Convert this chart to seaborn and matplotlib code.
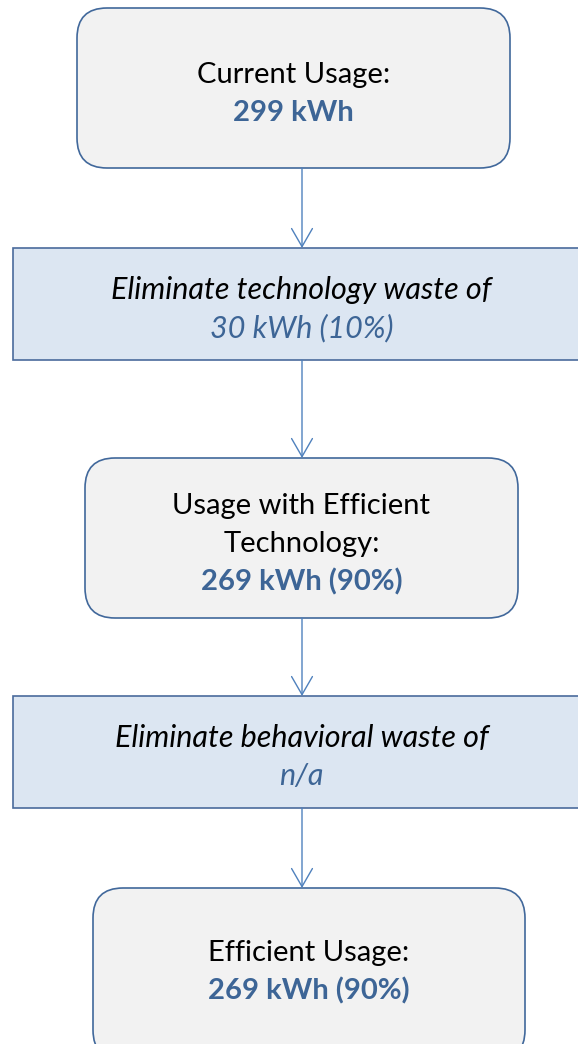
import matplotlib
matplotlib.use("Agg")
import matplotlib.pyplot as plt
from matplotlib.patches import FancyBboxPatch, Rectangle
import seaborn as sns

# flow steps, top to bottom
step_titles = ["Current Usage:",
               "Eliminate technology waste of",
               "Usage with Efficient\nTechnology:",
               "Eliminate behavioral waste of",
               "Efficient Usage:"]
step_values = ["299 kWh", "30 kWh (10%)", "269 kWh (90%)", "n/a", "269 kWh (90%)"]
step_kinds = ["usage", "waste", "usage", "waste", "usage"]

# layout in pixel units (y goes down)
box_top = [8, 248, 458, 696, 888]
box_bottom = [168, 360, 618, 808, 1060]
box_left = [77, 13, 85, 13, 93]
box_right = [510, 595, 518, 595, 525]
arrow_x = 302
line_gap = 38

usage_fill, usage_edge = "#f2f2f2", "#41689b"
waste_fill, waste_edge = "#dce6f2", "#4a6b9c"
value_color = "#3d6596"
arrow_color = "#4f81bd"


def draw_flow():
    sns.set_style("white")
    plt.rcParams['font.family'] = ['Lato', 'DejaVu Sans']

    fig = plt.figure(figsize=(5.78, 10.44), dpi=100)
    ax = fig.add_axes([0, 0, 1, 1])
    ax.set_xlim(0, 578)
    ax.set_ylim(1044, 0)
    ax.axis('off')

    for i, kind in enumerate(step_kinds):
        x0, x1 = box_left[i], box_right[i]
        y0, y1 = box_top[i], box_bottom[i]
        if kind == "usage":
            patch = FancyBboxPatch((x0, y0), x1 - x0, y1 - y0,
                                   boxstyle="round,pad=0,rounding_size=30",
                                   facecolor=usage_fill, edgecolor=usage_edge,
                                   linewidth=1.2)
        else:
            patch = Rectangle((x0, y0), x1 - x0, y1 - y0,
                              facecolor=waste_fill, edgecolor=waste_edge,
                              linewidth=1.2)
        ax.add_patch(patch)

        lines = step_titles[i].split("\n")
        n = len(lines) + 1
        cx = (x0 + min(x1, 590)) / 2 if kind == "waste" else (x0 + x1) / 2
        cy = (y0 + min(y1, 1044)) / 2
        first = cy - (n - 1) * line_gap / 2 + 14
        if kind == "waste":
            style, size, weight = 'italic', 22, 'normal'
        else:
            style, size, weight = 'normal', 21, 'bold'
        for j, line in enumerate(lines):
            ax.text(cx, first + j * line_gap, line, ha='center', va='baseline',
                    fontsize=size, color='black', style=style)
        ax.text(cx, first + len(lines) * line_gap, step_values[i],
                ha='center', va='baseline', fontsize=size, color=value_color,
                style=style, weight=weight)

    for i in range(len(step_kinds) - 1):
        ax.annotate("", xy=(arrow_x, box_top[i + 1]), xytext=(arrow_x, box_bottom[i]),
                    arrowprops=dict(arrowstyle="->,head_length=1.3,head_width=0.75",
                                    color=arrow_color, lw=1.0, shrinkA=0, shrinkB=0,
                                    mutation_scale=10))

    fig.savefig("out.png", dpi=100)


if __name__ == '__main__':
    draw_flow()
